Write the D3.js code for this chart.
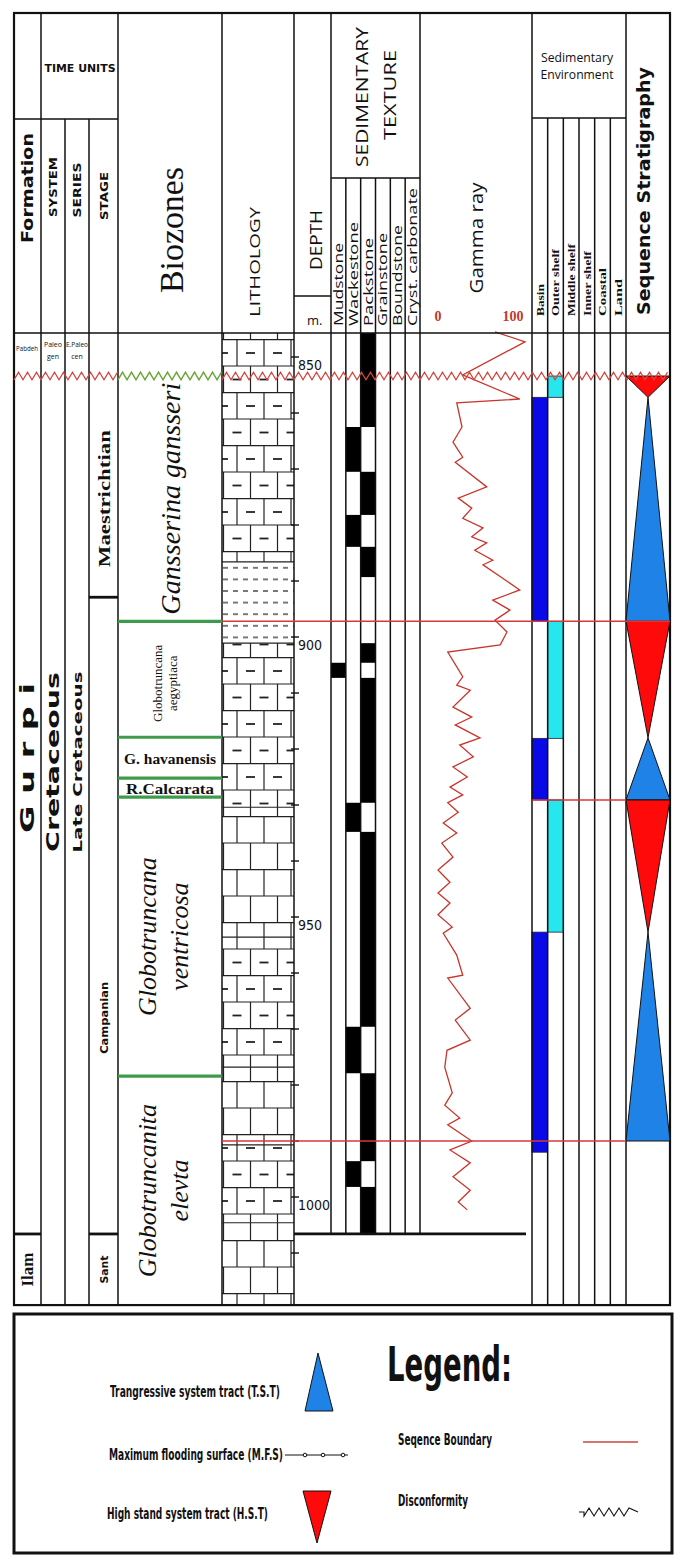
<!DOCTYPE html>
<meta charset="utf-8">
<style>
body { margin: 0; background: #fff; }
text { fill: #111; }
</style>
<svg width="685" height="1559"></svg>
<script src="https://cdn.jsdelivr.net/npm/d3@7/dist/d3.min.js"></script>
<script>

// depths in metres
var logTop = 845.7, logBase = 1019.3, sectionBase = 1006.6;
var disconformity = 853.4;

var formations = ["Pabdeh", "Gurpi", "Ilam"];
var formationTops = [845.7, 853.4, 1006.6];

var stages = ["", "Maestrichtian", "Campanian", "Sant"];
var stageTops = [845.7, 853.4, 892.9, 1006.6];

var biozones = ["Gansserina gansseri", "Globotruncana aegyptiaca", "G. havanensis",
                "R.Calcarata", "Globotruncana ventricosa", "Globotruncanita elevta"];
var biozoneTops = [853.4, 897.2, 917.9, 925.2, 928.6, 978.4];

var lithKinds = ["argillaceous", "shale", "argillaceous", "limestone",
                 "argillaceous", "limestone", "argillaceous", "limestone"];
var lithTops = [845.7, 886.6, 901.1, 930.4, 953.6, 976.8, 990.7, 1004.6];

var textures = ["Mudstone", "Wackestone", "Packstone", "Grainstone", "Boundstone", "Cryst. carbonate"];
var textureKinds = ["Packstone", "Wackestone", "Packstone", "Wackestone", "Packstone", null,
                    "Packstone", "Mudstone", "Packstone", "Wackestone", "Packstone",
                    "Wackestone", "Packstone", "Wackestone", "Packstone"];
var textureTops = [845.7, 862.5, 870.5, 878.2, 883.9, 889.3, 901.1, 904.6, 907.3,
                   929.6, 934.8, 969.6, 977.9, 993.6, 998.2];

var gammaDepth = [845.5, 847.3, 853.2, 857.5, 858.2, 862.5, 865.2, 867.9, 868.8, 873.2,
                  875.2, 877.0, 878.8, 880.5, 882.1, 883.2, 884.5, 886.3, 887.1, 891.6,
                  893.4, 895.2, 897.0, 899.1, 901.4, 902.7, 907.1, 908.6, 909.5, 912.5,
                  914.3, 915.7, 918.0, 919.3, 921.4, 923.2, 925.0, 926.8, 928.2, 929.6,
                  931.3, 933.2, 935.0, 936.8, 939.3, 941.6, 943.8, 945.7, 947.5, 949.6,
                  951.8, 952.9, 956.8, 960.4, 960.9, 966.3, 968.4, 972.0, 973.8, 976.8,
                  981.4, 983.6, 985.9, 987.1, 990.0, 991.6, 993.9, 996.4, 998.8, 1000.9, 1002.3];
var gammaValue = [76, 116, 33, 109, 25, 32, 20, 33, 23, 65,
                  27, 45, 33, 60, 45, 65, 49, 73, 60, 109,
                  73, 96, 76, 92, 83, 13, 33, 25, 43, 20,
                  45, 23, 56, 29, 47, 20, 39, 16, 33, 13,
                  27, 7, 25, 5, 20, 0, 16, 0, 16, 0,
                  19, 7, 25, 33, 13, 43, 23, 43, 12, 9,
                  19, 9, 29, 13, 45, 16, 43, 20, 43, 27, 39];

var environments = ["Basin", "Outer shelf", "Middle shelf", "Inner shelf", "Coastal", "Land"];
var envKinds = ["Outer shelf", "Basin", "Outer shelf", "Basin", "Outer shelf", "Basin"];
var envTops = [853.4, 857.2, 897.2, 918.1, 929.1, 952.7];
var envBase = 992.0;

var tractKinds = ["HST", "TST", "HST", "TST", "HST", "TST"];
var tractTops = [853.4, 857.2, 897.2, 918.0, 929.1, 952.7];
var tractBase = 990.0;

var sequenceBoundaries = [897.2, 929.1, 990.0];

var SANS_B = "'DejaVu Sans', Verdana, sans-serif";
var SANS = "'Open Sans', 'DejaVu Sans', sans-serif";
var SERIF = "'Liberation Serif', 'Times New Roman', serif";
var NARROW = "'Liberation Sans Narrow', 'DejaVu Sans Condensed', sans-serif";

var svg = d3.select("svg");
var y = d3.scaleLinear().domain([850, 1000]).range([357, 1197]);
var gx = d3.scaleLinear().domain([0, 100]).range([438, 513]);

var col = {
  form: [14, 41], sys: [41, 65], ser: [65, 89], stage: [89, 118],
  bio: [118, 222], lith: [222, 294], depth: [294, 331], tex: [331, 420],
  gamma: [420, 532], env: [532, 626], seq: [626, 670]
};
var frameTop = 13, headBot = y(logTop), frameBot = y(logBase), tdY = y(sectionBase);

var texX = d3.scaleBand().domain(textures).range(col.tex);
var envX = d3.scaleBand().domain(environments).range(col.env);

function intervals(kinds, tops, base) {
  return kinds.map(function (k, i) {
    return { kind: k, top: tops[i], base: i < tops.length - 1 ? tops[i + 1] : base };
  });
}
function mid(a) { return (a[0] + a[1]) / 2; }

// ---------- patterns ----------
var defs = svg.append("defs");

function brickPattern(id, dashed) {
  var p = defs.append("pattern").attr("id", id)
      .attr("patternUnits", "userSpaceOnUse")
      .attr("x", col.lith[0]).attr("y", 339)
      .attr("width", 54).attr("height", 53);
  p.append("rect").attr("width", 54).attr("height", 53).attr("fill", "#fff");
  var g = p.append("g").attr("stroke", "#222").attr("stroke-width", 1.2);
  [0.6, 27].forEach(function (h) {
    g.append("line").attr("x1", 0).attr("x2", 54).attr("y1", h).attr("y2", h);
  });
  [15, 42].forEach(function (x) {
    g.append("line").attr("x1", x).attr("x2", x).attr("y1", 0).attr("y2", 27);
  });
  [1.5, 28.5].forEach(function (x) {
    g.append("line").attr("x1", x).attr("x2", x).attr("y1", 27).attr("y2", 53);
  });
  if (dashed) {
    [[1.5, 14], [28.5, 14], [55.5, 14], [15, 40.5], [42, 40.5]].forEach(function (c) {
      g.append("line").attr("x1", c[0] - 4.5).attr("x2", c[0] + 4.5)
          .attr("y1", c[1]).attr("y2", c[1]).attr("stroke-width", 1.8);
    });
  }
}
brickPattern("limestone", false);
brickPattern("argillaceous", true);

var shale = defs.append("pattern").attr("id", "shale")
    .attr("patternUnits", "userSpaceOnUse")
    .attr("x", col.lith[0]).attr("y", 562)
    .attr("width", 10).attr("height", 11.6);
shale.append("rect").attr("width", 10).attr("height", 11.6).attr("fill", "#fff");
shale.append("line").attr("x1", 1).attr("x2", 6).attr("y1", 5.8).attr("y2", 5.8)
    .attr("stroke", "#222").attr("stroke-width", 1.2);

// ---------- lithology ----------
var lith = intervals(lithKinds, lithTops, logBase);
svg.append("g").attr("class", "lith")
  .selectAll("rect").data(lith).enter().append("rect")
    .attr("x", col.lith[0]).attr("width", col.lith[1] - col.lith[0])
    .attr("y", function (d) { return y(d.top); })
    .attr("height", function (d) { return y(d.base) - y(d.top); })
    .attr("fill", function (d) { return "url(#" + d.kind + ")"; });
svg.append("g").selectAll("line").data(lith.slice(1)).enter().append("line")
    .attr("x1", col.lith[0]).attr("x2", col.lith[1])
    .attr("y1", function (d) { return y(d.top); })
    .attr("y2", function (d) { return y(d.top); })
    .attr("stroke", "#222").attr("stroke-width", 1.2);

// ---------- sedimentary texture ----------
svg.append("g").selectAll("rect")
    .data(intervals(textureKinds, textureTops, sectionBase).filter(function (d) { return d.kind; }))
    .enter().append("rect")
    .attr("x", function (d) { return texX(d.kind); })
    .attr("width", texX.bandwidth())
    .attr("y", function (d) { return y(d.top); })
    .attr("height", function (d) { return y(d.base) - y(d.top); })
    .attr("fill", "#000");

// ---------- sedimentary environment ----------
var envColor = { "Basin": "#0a0ae8", "Outer shelf": "#26e6ee" };
svg.append("g").selectAll("rect")
    .data(intervals(envKinds, envTops, envBase)).enter().append("rect")
    .attr("x", function (d) { return envX(d.kind); })
    .attr("width", envX.bandwidth())
    .attr("y", function (d) { return y(d.top); })
    .attr("height", function (d) { return y(d.base) - y(d.top); })
    .attr("fill", function (d) { return envColor[d.kind]; })
    .attr("stroke", "#223").attr("stroke-width", 0.8);

// ---------- gamma ray ----------
svg.append("path")
    .datum(gammaDepth.map(function (d, i) { return [d, gammaValue[i]]; }))
    .attr("fill", "none").attr("stroke", "#c8352c").attr("stroke-width", 1.3)
    .attr("stroke-linejoin", "miter")
    .attr("d", d3.line()
      .x(function (d) { return gx(d[1]); })
      .y(function (d) { return y(d[0]); }));

// ---------- grid ----------
var grid = svg.append("g").attr("stroke", "#111").attr("stroke-width", 1.5);
function vline(x, y1, y2, w) {
  grid.append("line").attr("x1", x).attr("x2", x).attr("y1", y1).attr("y2", y2)
      .attr("stroke-width", w || 1.5);
}
function hline(x1, x2, yy, w) {
  grid.append("line").attr("x1", x1).attr("x2", x2).attr("y1", yy).attr("y2", yy)
      .attr("stroke-width", w || 1.5);
}
vline(col.sys[0], frameTop, frameBot);
vline(col.ser[0], 119, frameBot);
vline(col.stage[0], 119, frameBot);
vline(col.bio[0], frameTop, frameBot);
vline(col.lith[0], frameTop, frameBot);
vline(col.depth[0], frameTop, frameBot);
vline(col.tex[0], frameTop, tdY);
textures.slice(1).forEach(function (t) { vline(texX(t), 178, tdY); });
vline(col.gamma[0], frameTop, tdY);
vline(col.env[0], frameTop, frameBot);
environments.slice(1).forEach(function (e) { vline(envX(e), 118, frameBot); });
vline(col.seq[0], frameTop, frameBot);
hline(col.form[0], col.stage[1], 119);
hline(col.tex[0], col.tex[1], 178);
hline(col.depth[0], col.depth[1], 296);
hline(col.env[0], col.env[1], 118);
hline(col.form[0], col.seq[1], headBot);
hline(col.depth[0], 526, tdY, 2.8);
hline(col.form[0], col.form[1], y(formationTops[2]), 2.8);
hline(col.stage[0], col.stage[1], y(stageTops[2]), 2.8);
hline(col.stage[0], col.stage[1], y(stageTops[3]), 2.8);
grid.append("rect").attr("x", col.form[0]).attr("y", frameTop)
    .attr("width", col.seq[1] - col.form[0]).attr("height", frameBot - frameTop)
    .attr("fill", "none").attr("stroke-width", 2.2);

// depth axis
var depthTicks = d3.range(850, 1011, 10);
var axis = svg.append("g");
axis.selectAll("line").data(depthTicks).enter().append("line")
    .attr("x1", col.depth[0] - 3).attr("x2", col.depth[0] + 5)
    .attr("y1", function (d) { return y(d); }).attr("y2", function (d) { return y(d); })
    .attr("stroke", "#111").attr("stroke-width", 1.4);
axis.selectAll("text").data(depthTicks.filter(function (d) { return d % 50 === 0; }))
  .enter().append("text")
    .attr("x", col.depth[0] + 4).attr("y", function (d) { return y(d) + 13; })
    .style("font-family", NARROW).style("font-size", "14px")
    .text(function (d) { return d; });

// ---------- biozone boundaries ----------
svg.append("g").selectAll("line").data(biozoneTops.slice(1)).enter().append("line")
    .attr("x1", col.bio[0]).attr("x2", col.bio[1])
    .attr("y1", function (d) { return y(d); }).attr("y2", function (d) { return y(d); })
    .attr("stroke", "#3f9b4c").attr("stroke-width", 3.2);

// ---------- systems tracts ----------
var tracts = intervals(tractKinds, tractTops, tractBase);
var sx = col.seq, sm = mid(col.seq);
svg.append("g").selectAll("polygon").data(tracts).enter().append("polygon")
    .attr("points", function (d) {
      var t = y(d.top), b = y(d.base);
      var p = d.kind === "HST"
        ? [[sx[0], t], [sx[1], t], [sm, b]]
        : [[sm, t], [sx[1], b], [sx[0], b]];
      return p.join(" ");
    })
    .attr("fill", function (d) { return d.kind === "HST" ? "#ff0a0a" : "#1f82e6"; })
    .attr("stroke", "#111").attr("stroke-width", 1);

// ---------- sequence boundaries ----------
var sbExtent = [[col.lith[0], col.seq[1]], [col.env[0], col.seq[0]], [col.lith[0], col.seq[0]]];
svg.append("g").selectAll("line").data(sequenceBoundaries).enter().append("line")
    .attr("x1", function (d, i) { return sbExtent[i][0]; })
    .attr("x2", function (d, i) { return sbExtent[i][1]; })
    .attr("y1", function (d) { return y(d); }).attr("y2", function (d) { return y(d); })
    .attr("stroke", "#d8383a").attr("stroke-width", 1.6);

// ---------- disconformity ----------
function zigzag(x0, x1, yy, amp, step) {
  var pts = [];
  for (var x = x0, k = 0; x <= x1 + 0.01; x += step / 2, k++) pts.push([x, yy + (k % 2 ? -amp : amp)]);
  return d3.line()(pts);
}
var dY = y(disconformity);
svg.append("path").attr("d", zigzag(col.form[0], col.bio[0], dY, 3.8, 9))
    .attr("fill", "none").attr("stroke", "#d4483e").attr("stroke-width", 1.3);
svg.append("path").attr("d", zigzag(col.bio[0], col.bio[1], dY, 3.8, 9))
    .attr("fill", "none").attr("stroke", "#6aa83a").attr("stroke-width", 1.5);
svg.append("path").attr("d", zigzag(col.lith[0], col.seq[1], dY, 3.8, 9))
    .attr("fill", "none").attr("stroke", "#d4483e").attr("stroke-width", 1.3);

// ---------- text ----------
var txt = svg.append("g");
function label(x, yy, str, font, size, weight, len, anchor, rot) {
  var t = txt.append("text")
      .attr("transform", "translate(" + x + "," + yy + ")" + (rot === false ? "" : " rotate(-90)"))
      .attr("text-anchor", anchor || "middle").attr("dy", "0.35em")
      .style("font-family", font).style("font-size", size + "px")
      .style("font-weight", weight || "normal")
      .text(str);
  if (len) t.attr("textLength", len).attr("lengthAdjust", "spacingAndGlyphs");
  return t;
}

// header
label(80, 68, "TIME UNITS", SANS_B, 10, "bold", 71, "middle", false);
label(27, 188, "Formation", SANS_B, 16, "bold", 110);
label(53, 187, "SYSTEM", SANS_B, 10, "bold", 60);
label(77, 190, "SERIES", SANS_B, 10, "bold", 55);
label(104, 196, "STAGE", SANS_B, 10, "bold", 48);
label(171, 230, "Biozones", SERIF, 34, "normal", 126);
label(255, 262, "LITHOLOGY", SANS, 14, "normal", 110);
label(316, 240, "DEPTH", SANS, 16, "normal", 60);
label(307, 320, "m.", SANS, 13, "normal", null, "start", false);
label(362, 97, "SEDIMENTARY", SANS, 17, "normal", 140);
label(390, 95, "TEXTURE", SANS, 17, "normal", 90);
var texLen = [83, 104, 88, 93, 101, 138];
textures.forEach(function (t, i) {
  label(texX(t) + texX.bandwidth() / 2, 326, t, SANS, 13, "normal", texLen[i], "start");
});
label(476, 238, "Gamma ray", SANS, 19, "normal", 111);
txt.append("text").attr("x", gx(0)).attr("y", 321).attr("text-anchor", "middle")
    .style("font-family", SERIF).style("font-size", "14px").style("font-weight", "bold")
    .style("fill", "#c0392b").text("0");
txt.append("text").attr("x", gx(100)).attr("y", 321).attr("text-anchor", "middle")
    .style("font-family", SERIF).style("font-size", "14px").style("font-weight", "bold")
    .style("fill", "#c0392b").text("100");
label(577, 57, "Sedimentary", SANS, 13, "normal", 72, "middle", false);
label(577, 74, "Environment", SANS, 13, "normal", 73, "middle", false);
var envLen = [32, 67, 72, 65, 48, 37];
environments.forEach(function (e, i) {
  label(envX(e) + envX.bandwidth() / 2, 316, e, SERIF, 11, "bold", envLen[i], "start");
});
label(644, 191, "Sequence Stratigraphy", SANS_B, 18, "bold", 248);

// time units & formations
label(27, 349, "Pabdeh", SANS, 6.5, "normal", 22, "middle", false);
label(53, 345, "Paleo", SANS, 7, "normal", null, "middle", false);
label(53, 357, "gen", SANS, 7, "normal", null, "middle", false);
label(77, 345, "E.Paleo", SANS, 7, "normal", 22, "middle", false);
label(77, 357, "cen", SANS, 7, "normal", null, "middle", false);
label(27, 758, "G u r p i", SANS_B, 20, "bold", 150);
label(53, 762, "Cretaceous", SANS_B, 18, "bold", 180);
label(77, 762, "Late Cretaceous", SANS_B, 13, "bold", 181);
label(27, y(mid([formationTops[2], logBase])), "Ilam", SERIF, 17, "bold", 34);

label(104, y(mid([stageTops[1], stageTops[2]])) + 12, "Maestrichtian", SERIF, 17, "bold", 137);
label(104, y(968), "Campanian", SANS_B, 11, "bold", 72);
label(104, y(mid([stageTops[3], logBase])), "Sant", SANS_B, 11, "bold", 28);

// biozones
var bz = intervals(biozones, biozoneTops, logBase);
label(170, y(mid([bz[0].top, bz[0].base])), "Gansserina gansseri", SERIF, 28, "normal", 232)
    .style("font-style", "italic");
var aeg = label(167, y(mid([bz[1].top, bz[1].base])) + 4, "", SERIF, 13, "normal");
aeg.append("tspan").attr("x", 0).attr("dy", "-0.4em").text("Globotruncana");
aeg.append("tspan").attr("x", 0).attr("dy", "1.2em").text("aegyptiaca");
label(170, y(mid([bz[2].top, bz[2].base])) + 1, "G. havanensis", SERIF, 15, "bold", 92, "middle", false);
label(170, y(mid([bz[3].top, bz[3].base])) + 1, "R.Calcarata", SERIF, 15, "bold", 88, "middle", false);
[[4, "Globotruncana", "ventricosa"], [5, "Globotruncanita", "elevta"]].forEach(function (b) {
  var t = label(172, y(mid([bz[b[0]].top, bz[b[0]].base])), "", SERIF, 26, "normal")
      .style("font-style", "italic");
  t.append("tspan").attr("x", 0).attr("dy", "-0.6em").text(b[1]);
  t.append("tspan").attr("x", 0).attr("dy", "1.2em").text(b[2]);
});

// ---------- legend ----------
var lg = svg.append("g");
lg.append("rect").attr("x", 14).attr("y", 1314).attr("width", 658).attr("height", 239)
    .attr("fill", "none").attr("stroke", "#111").attr("stroke-width", 3);
lg.append("text").attr("x", 387).attr("y", 1381)
    .attr("textLength", 125).attr("lengthAdjust", "spacingAndGlyphs")
    .style("font-family", NARROW).style("font-size", "48px").style("font-weight", "bold")
    .text("Legend:");
var legendItems = [
  ["Trangressive system tract (T.S.T)", 110, 1397, 170],
  ["Maximum flooding surface (M.F.S)", 109, 1460, 174],
  ["High stand system tract (H.S.T)", 107, 1519, 161],
  ["Seqence Boundary", 398, 1445, 94],
  ["Disconformity", 398, 1506, 70]
];
lg.selectAll("text.item").data(legendItems).enter().append("text")
    .attr("class", "item")
    .attr("x", function (d) { return d[1]; }).attr("y", function (d) { return d[2]; })
    .attr("textLength", function (d) { return d[3]; }).attr("lengthAdjust", "spacingAndGlyphs")
    .style("font-family", NARROW).style("font-size", "15px").style("font-weight", "bold")
    .text(function (d) { return d[0]; });
lg.append("polygon").attr("points", [[318, 1353], [333, 1411], [305, 1411]].join(" "))
    .attr("fill", "#1f82e6").attr("stroke", "#111");
lg.append("polygon").attr("points", [[303, 1491], [331, 1491], [317, 1543]].join(" "))
    .attr("fill", "#ff0a0a").attr("stroke", "#111");
lg.append("line").attr("x1", 285).attr("x2", 348).attr("y1", 1455).attr("y2", 1455)
    .attr("stroke", "#111").attr("stroke-width", 1);
lg.selectAll("circle").data([305, 323, 343]).enter().append("circle")
    .attr("cx", function (d) { return d; }).attr("cy", 1455).attr("r", 1.8)
    .attr("fill", "#fff").attr("stroke", "#111");
lg.append("line").attr("x1", 583).attr("x2", 638).attr("y1", 1442).attr("y2", 1442)
    .attr("stroke", "#c8463e").attr("stroke-width", 1.6);
lg.append("path").attr("d", "M579,1512 L584,1512" + zigzag(584, 633, 1512, 4, 10).replace("M", "L") + " L638,1512")
    .attr("fill", "none").attr("stroke", "#111").attr("stroke-width", 1.1);

</script>
